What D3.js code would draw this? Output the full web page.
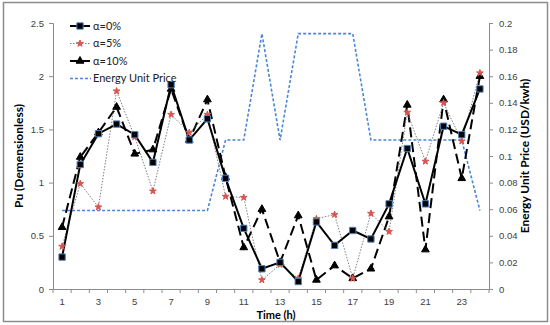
<!DOCTYPE html>
<html lang="en">
<head>
    <meta charset="UTF-8">
    <title>Pu and Energy Unit Price</title>
    <script src="https://d3js.org/d3.v7.min.js"></script>
    <style>
        body {
            margin: 0;
            font-family: Lato, "Open Sans", Arial, sans-serif;
            background: #fff;
        }
        .tick text {
            font-size: 9.5px;
            fill: #404040;
        }
        .axis-title {
            font-size: 12px;
            font-weight: bold;
            fill: #000;
        }
        .legend text {
            font-size: 11px;
            fill: #222;
        }
    </style>
</head>
<body>
    <div id="chart"></div>
    <script>
        // hours (categories)
        const hours = d3.range(1, 25).map(String);
        const xLabels = ["1", "3", "5", "7", "9", "11", "13", "15", "17", "19", "21", "23"];

        // Pu for each alpha
        const pu0 = [0.30, 1.17, 1.46, 1.55, 1.45, 1.19, 1.92, 1.40, 1.60, 1.04, 0.57, 0.19,
                     0.25, 0.07, 0.63, 0.41, 0.55, 0.47, 0.80, 1.32, 0.80, 1.53, 1.45, 1.88];
        const pu5 = [0.40, 0.99, 0.77, 1.86, 1.43, 0.92, 1.64, 1.47, 1.64, 0.87, 0.86, 0.085,
                     0.23, 0.10, 0.66, 0.70, 0.10, 0.71, 0.54, 1.66, 1.20, 1.75, 1.39, 2.03];
        const pu10 = [0.58, 1.24, 1.47, 1.71, 1.27, 1.31, 1.88, 1.40, 1.78, 1.05, 0.39, 0.75,
                      0.25, 0.69, 0.085, 0.22, 0.10, 0.19, 0.68, 1.73, 0.37, 1.78, 1.04, 2.00];

        // energy unit price (USD/kwh), secondary axis
        const price = [0.059, 0.059, 0.059, 0.059, 0.059, 0.059, 0.059, 0.059, 0.059, 0.112, 0.112, 0.192,
                       0.112, 0.192, 0.192, 0.192, 0.192, 0.112, 0.112, 0.112, 0.112, 0.112, 0.112, 0.059];

        const leftTicks = [0, 0.5, 1, 1.5, 2, 2.5];
        const rightTicks = d3.range(0, 0.2001, 0.02);

        const width = 550, height = 325;
        const plotLeft = 53, plotRight = 489, plotTop = 23, plotBottom = 289;

        const svg = d3.select("#chart").append("svg")
            .attr("width", width)
            .attr("height", height);

        // outer frame
        svg.append("rect")
            .attr("x", 3.5).attr("y", 2.5)
            .attr("width", 544).attr("height", 319)
            .attr("fill", "none")
            .attr("stroke", "#8c8c8c")
            .attr("stroke-width", 1.5);

        const x = d3.scaleBand().domain(hours).range([plotLeft, plotRight]);
        const cx = h => x(h) + x.bandwidth() / 2;
        const y = d3.scaleLinear().domain([0, 2.5]).range([plotBottom, plotTop]);
        const y2 = d3.scaleLinear().domain([0, 0.2]).range([plotBottom, plotTop]);

        const axisColor = "#8c8c8c";

        // left axis
        const gy = svg.append("g")
            .attr("transform", `translate(${plotLeft},0)`)
            .call(d3.axisLeft(y).tickValues(leftTicks).tickSize(4).tickPadding(5)
                .tickFormat(d => d === 0 ? "0" : String(d)));
        // right axis
        const gy2 = svg.append("g")
            .attr("transform", `translate(${plotRight},0)`)
            .call(d3.axisRight(y2).tickValues(rightTicks).tickSize(4).tickPadding(6)
                .tickFormat(d => d === 0 ? "0" : String(+d.toFixed(2))));
        // bottom axis: ticks at category boundaries
        const gx = svg.append("g")
            .attr("transform", `translate(0,${plotBottom})`)
            .call(d3.axisBottom(x).tickValues(xLabels).tickSize(0).tickPadding(9));
        gx.selectAll(".bound")
            .data(d3.range(0, hours.length + 1))
            .enter().append("line")
            .attr("class", "bound")
            .attr("x1", i => plotLeft + i * x.bandwidth())
            .attr("x2", i => plotLeft + i * x.bandwidth())
            .attr("y1", 0).attr("y2", 4)
            .attr("stroke", axisColor);

        [gy, gy2, gx].forEach(g => {
            g.select(".domain").attr("stroke", axisColor);
            g.selectAll(".tick line").attr("stroke", axisColor);
        });

        // axis titles
        svg.append("text").attr("class", "axis-title")
            .attr("transform", `translate(18,${(plotTop + plotBottom) / 2}) rotate(-90)`)
            .attr("text-anchor", "middle")
            .attr("dominant-baseline", "central")
            .text("Pu (Demensionless)");
        svg.append("text").attr("class", "axis-title")
            .attr("transform", `translate(524,${(plotTop + plotBottom) / 2}) rotate(-90)`)
            .attr("text-anchor", "middle")
            .attr("dominant-baseline", "central")
            .text("Energy Unit Price (USD/kwh)");
        svg.append("text").attr("class", "axis-title")
            .attr("x", 276).attr("y", 318.5)
            .attr("text-anchor", "middle")
            .style("font-size", "11px")
            .text("Time (h)");

        const lineY = d3.line().x((d, i) => cx(hours[i])).y(d => y(d));
        const lineY2 = d3.line().x((d, i) => cx(hours[i])).y(d => y2(d));

        const series = [
            { name: "α=0%", values: pu0, stroke: "#000", width: 2, dash: null,
              symbol: d3.symbolSquare, size: 40, fill: "#000", mstroke: "#4f81bd" },
            { name: "α=5%", values: pu5, stroke: "#7f7f7f", width: 1, dash: "1.5,1.5",
              symbol: d3.symbolStar, size: 14, fill: "#d9534f", mstroke: "#d9534f" },
            { name: "α=10%", values: pu10, stroke: "#000", width: 2, dash: "10,5",
              symbol: d3.symbolTriangle, size: 26, fill: "#000", mstroke: "#000" }
        ];
        const priceStyle = { stroke: "#4a86d8", width: 1.6, dash: "3,2" };

        // price line (secondary axis)
        svg.append("path")
            .datum(price)
            .attr("d", lineY2)
            .attr("fill", "none")
            .attr("stroke", priceStyle.stroke)
            .attr("stroke-width", priceStyle.width)
            .attr("stroke-dasharray", priceStyle.dash);

        series.slice().reverse().forEach(s => {
            svg.append("path")
                .datum(s.values)
                .attr("d", lineY)
                .attr("fill", "none")
                .attr("stroke", s.stroke)
                .attr("stroke-width", s.width)
                .attr("stroke-dasharray", s.dash);
        });
        series.slice().reverse().forEach(s => {
            svg.append("g").selectAll("path")
                .data(s.values)
                .enter().append("path")
                .attr("d", d3.symbol().type(s.symbol).size(s.size))
                .attr("transform", (d, i) => `translate(${cx(hours[i])},${y(d)})`)
                .attr("fill", s.fill)
                .attr("stroke", s.mstroke)
                .attr("stroke-width", 1);
        });

        // legend
        const legend = svg.append("g").attr("class", "legend");
        const rows = [26, 43.5, 61, 78.5];
        series.forEach((s, i) => {
            const g = legend.append("g").attr("transform", `translate(70,${rows[i]})`);
            g.append("line").attr("x1", 0).attr("x2", 20)
                .attr("stroke", s.stroke).attr("stroke-width", s.width)
                .attr("stroke-dasharray", i === 2 ? null : s.dash);
            g.append("path")
                .attr("d", d3.symbol().type(s.symbol).size(s.size))
                .attr("transform", "translate(10,0)")
                .attr("fill", s.fill).attr("stroke", s.mstroke);
            g.append("text").attr("x", 23).attr("dy", "0.35em").text(s.name);
        });
        const gp = legend.append("g").attr("transform", `translate(70,${rows[3]})`);
        gp.append("line").attr("x1", 0).attr("x2", 21)
            .attr("stroke", priceStyle.stroke).attr("stroke-width", priceStyle.width)
            .attr("stroke-dasharray", priceStyle.dash);
        gp.append("text").attr("x", 23).attr("dy", "0.35em").text("Energy Unit Price");
    </script>
</body>
</html>
